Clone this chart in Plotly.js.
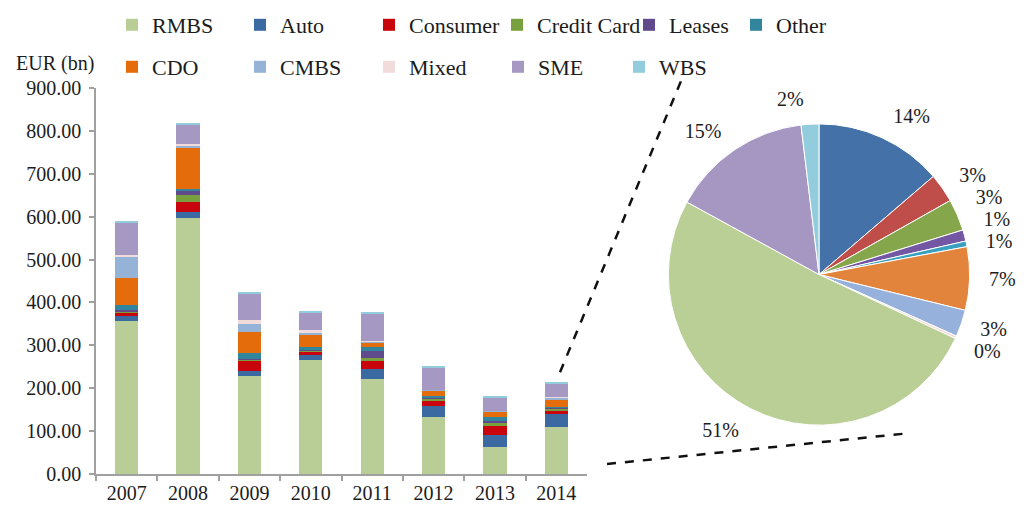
<!DOCTYPE html>
<html>
<head>
<meta charset="utf-8">
<script src="https://cdn.plot.ly/plotly-3.0.1.min.js"></script>
<style>
html,body{margin:0;padding:0;background:#fff;}
#chart{width:1024px;height:506px;}
#chart path.textline{display:none !important;}
</style>
</head>
<body>
<div id="chart"></div>
<script>
// ---- data (EUR bn) ----
var years = ['2007','2008','2009','2010','2011','2012','2013','2014'];
var seriesNames = ['RMBS','Auto','Consumer','Credit Card','Leases','Other','CDO','CMBS','Mixed','SME','WBS'];
var rmbs       = [356, 598, 228, 265, 222, 132, 64, 109.7];
var auto       = [13, 14, 13, 13, 23, 26, 27, 29.5];
var consumer   = [8, 23, 23, 7, 18, 14, 21, 6.7];
var creditCard = [3, 16, 3, 4, 8, 4, 9, 7.3];
var leases     = [2, 8, 2, 2, 15, 3, 2, 2.6];
var other      = [12, 5, 14, 4, 9, 3, 11, 1.3];
var cdo        = [63, 97, 47, 31, 12, 13, 12, 14.6];
var cmbs       = [49, 3, 19, 3, 1, 1, 1, 6.2];
var mixed      = [5, 6, 9, 7, 1, 1, 1, 0.6];
var sme        = [76, 45, 64, 40, 66, 52, 31, 32.5];
var wbs        = [4, 3, 2, 2, 2, 2, 2, 4.1];
var yTickVals  = [0,100,200,300,400,500,600,700,800,900];
// pie: 2014 breakdown, in the slice order of the pie (clockwise from 12 o'clock)
var pieOrder = ['Auto','Consumer','Credit Card','Leases','Other','CDO','CMBS','Mixed','RMBS','SME','WBS'];

// ---- styles ----
var barColors = ['#B8CE96','#3B69A2','#C8040C','#78A03E','#604A8C','#31859C','#E46C0A','#95B3D7','#F2DCDB','#A598C2','#93CDDD'];
var pieColors = {'Auto':'#4471A8','Consumer':'#BF4D4A','Credit Card':'#86A64C','Leases':'#7357A2','Other':'#3AA0C0',
                 'CDO':'#E3843C','CMBS':'#96B1DB','Mixed':'#F2DCDB','RMBS':'#B9CF96','SME':'#A597C2','WBS':'#93CDDD'};
var legendRow1Widths = [83, 84, 83, 87, 62, 62];
var legendRow2Widths = [83, 84, 84, 76, 62];
var FONT = 'Liberation Serif, Times New Roman, serif';
var TXT = '#1c1c1c';
var AXC = '#a0a0a0';

var allSeries = [rmbs, auto, consumer, creditCard, leases, other, cdo, cmbs, mixed, sme, wbs];

var W = 1024, H = 506;
var ML = 96, MR = 0, MT = 87, MB = 32;
var PW = W - ML - MR, PH = H - MT - MB;
function px(p){ return (p - ML) / PW; }
function py(p){ return 1 - (p - MT) / PH; }

var traces = [];
for (var i = 0; i < seriesNames.length; i++) {
  var row1 = i < 6;
  traces.push({
    type: 'bar',
    name: seriesNames[i],
    x: years,
    y: allSeries[i],
    marker: {color: barColors[i], line: {width: 0}},
    legend: row1 ? 'legend' : 'legend2',
    legendwidth: row1 ? legendRow1Widths[i] : legendRow2Widths[i - 6],
    hoverinfo: 'name+y'
  });
}

var lastIdx = years.length - 1;
var pieValues = pieOrder.map(function(n){ return allSeries[seriesNames.indexOf(n)][lastIdx]; });
var cx = 819, cy = 274, r = 151, rLab = 165;
function pieDomain(rad){ return {x: [px(cx - rad), px(cx + rad)], y: [py(cy + rad), py(cy - rad)]}; }

// visible pie
traces.push({
  type: 'pie',
  labels: pieOrder,
  values: pieValues,
  sort: false, direction: 'clockwise', rotation: 0,
  showlegend: false,
  marker: {colors: pieOrder.map(function(n){ return pieColors[n]; }), line: {color: '#ffffff', width: 1}},
  textposition: 'none',
  domain: pieDomain(r),
  hoverinfo: 'label+percent'
});
// same slices, slightly larger and transparent, only to carry the outside percentage labels
traces.push({
  type: 'pie',
  labels: pieOrder,
  values: pieValues,
  sort: false, direction: 'clockwise', rotation: 0,
  showlegend: false,
  marker: {colors: pieOrder.map(function(){ return 'rgba(0,0,0,0)'; }), line: {width: 0}},
  textposition: 'outside',
  texttemplate: '%{percent:.0%}',
  textfont: {family: FONT, size: 20, color: TXT},
  outsidetextfont: {family: FONT, size: 20, color: TXT},
  automargin: false,
  domain: pieDomain(rLab),
  hoverinfo: 'skip'
});

var legendBase = {
  orientation: 'h',
  xref: 'container', yref: 'container',
  xanchor: 'left', yanchor: 'middle',
  entrywidth: 81, entrywidthmode: 'pixels',
  traceorder: 'normal',
  font: {family: FONT, size: 22, color: TXT},
  bgcolor: 'rgba(0,0,0,0)',
  itemclick: false, itemdoubleclick: false
};
var legend1 = Object.assign({}, legendBase, {x: 112 / W, y: 1 - 25 / H});
var legend2 = Object.assign({}, legendBase, {x: 112 / W, y: 1 - 67 / H});

var layout = {
  width: W, height: H,
  margin: {l: ML, r: MR, t: MT, b: MB, pad: 0},
  paper_bgcolor: '#ffffff', plot_bgcolor: '#ffffff',
  font: {family: FONT, size: 20, color: TXT},
  barmode: 'stack',
  bargap: 0.62,
  showlegend: true,
  legend: legend1,
  legend2: legend2,
  xaxis: {
    domain: [0, px(587)],
    type: 'category',
    tickson: 'boundaries',
    ticks: 'outside', ticklen: 5, tickcolor: AXC, tickwidth: 1.5,
    showline: true, linecolor: AXC, linewidth: 1.5,
    showgrid: false, zeroline: false,
    tickfont: {family: FONT, size: 20, color: TXT},
    fixedrange: true
  },
  yaxis: {
    range: [0, 900],
    tickvals: yTickVals,
    tickformat: '.2f',
    ticks: 'outside', ticklen: 5, tickcolor: AXC, tickwidth: 1.5,
    ticklabelstandoff: 4,
    showline: true, linecolor: AXC, linewidth: 1.5,
    showgrid: false, zeroline: false,
    tickfont: {family: FONT, size: 20, color: TXT},
    fixedrange: true
  },
  annotations: [{
    text: 'EUR (bn)', xref: 'paper', yref: 'paper',
    x: px(14), y: py(62), xanchor: 'left', yanchor: 'middle',
    showarrow: false, font: {family: FONT, size: 20, color: TXT}
  }],
  shapes: [
    {type: 'line', xref: 'paper', yref: 'paper', x0: px(560), y0: py(372), x1: px(681), y1: py(80),
     line: {color: '#111', width: 2.5, dash: 'dash'}},
    {type: 'line', xref: 'paper', yref: 'paper', x0: px(607), y0: py(464), x1: px(910), y1: py(433),
     line: {color: '#111', width: 2.5, dash: 'dash'}}
  ]
};

Plotly.newPlot('chart', traces, layout, {displayModeBar: false, responsive: false});
</script>
</body>
</html>
